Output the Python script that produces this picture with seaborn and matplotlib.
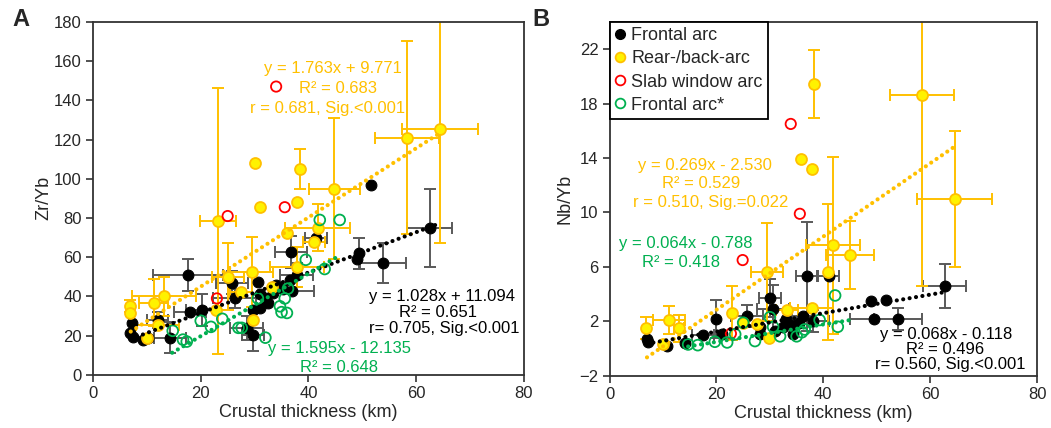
import numpy as np
import pandas as pd
import matplotlib
matplotlib.use("Agg")
import matplotlib.pyplot as plt
from matplotlib.lines import Line2D
import seaborn as sns

# ---------------- Panel A: Zr/Yb vs crustal thickness ----------------
a_front_x = [7.2, 6.9, 7.4, 9.3, 10.2, 12.0, 14.3, 17.6, 18.0, 20.2, 25.8, 26.3, 28.5, 29.7,
             30.6, 31.0, 32.5, 31.0, 29.7, 35.3, 37.0, 36.5, 36.7, 41.4, 49.4, 49.0, 53.8,
             62.5, 51.6, 33.5, 34.0, 32.0, 37.8]
a_front_y = [26.5, 21.4, 19.4, 17.8, 19.0, 28.0, 19.0, 51.0, 32.0, 33.0, 47.0, 39.0, 24.0, 20.4,
             47.5, 41.0, 36.7, 34.0, 33.0, 44.0, 43.0, 48.5, 62.7, 70.0, 62.0, 59.0, 57.0,
             75.0, 97.0, 42.0, 46.0, 39.0, 51.0]
a_front_xerr = [0, 0, 0, 0, 0, 2, 3, 6.5, 3, 3, 3, 4, 3, 2,
                0, 0, 0, 0, 0, 0, 4, 0, 3, 2, 0, 0, 4.3,
                4.2, 0, 0, 0, 0, 3]
a_front_yerr = [0, 0, 0, 0, 0, 4, 8, 8, 0, 8, 6, 5, 6, 8,
                0, 0, 0, 0, 0, 0, 0, 0, 8, 0, 8, 0, 10,
                20, 0, 0, 0, 0, 6]

a_rear_x = [6.9, 6.9, 10.0, 11.3, 13.2, 12.0, 22.8, 23.2, 25.0, 27.5, 29.5, 29.7, 30.0, 31.0,
            33.2, 36.0, 37.8, 38.4, 37.8, 41.0, 41.7, 44.8, 58.3, 64.4]
a_rear_y = [35.0, 31.6, 19.0, 36.7, 40.0, 25.5, 33.0, 78.5, 50.0, 42.4, 52.5, 28.0, 108.0, 85.5,
            45.0, 72.5, 88.0, 105.0, 55.0, 68.0, 75.0, 95.0, 121.0, 125.5]
a_rear_xerr = [0, 0, 0, 2.7, 6, 4, 0, 3.3, 3, 2, 4, 0, 0, 0,
               0, 0, 0, 0, 5, 2, 6, 4.7, 6, 7]
a_rear_yerr = [3, 0, 0, 12, 10, 0, 0, 68, 17, 0, 18, 0, 0, 0,
               0, 0, 0, 10, 10, 0, 12, 36, 49, 58]

a_slab_x = [34.0, 25.0, 35.6, 23.0]
a_slab_y = [147.0, 81.0, 85.5, 39.0]

a_front2_x = [14.8, 16.7, 17.4, 20.0, 21.9, 24.0, 27.0, 27.6, 30.6, 32.0, 34.7, 35.0, 36.0,
              35.6, 36.2, 39.5, 42.1, 45.8, 43.0]
a_front2_y = [22.5, 18.0, 17.0, 27.6, 24.5, 28.6, 24.0, 24.0, 39.0, 19.0, 35.0, 32.0, 31.6,
              39.0, 44.0, 58.7, 79.0, 79.0, 54.0]

# ---------------- Panel B: Nb/Yb vs crustal thickness ----------------
b_front_x = [7.0, 7.2, 10.7, 14.1, 17.5, 19.9, 21.0, 25.7, 28.1, 28.1, 30.0, 30.6, 32.4, 34.3,
             34.3, 36.2, 36.9, 41.0, 49.0, 51.7, 49.4, 53.9, 62.7, 31.0, 33.0, 35.5, 38.0]
b_front_y = [0.7, 0.5, 0.2, 0.4, 1.0, 2.2, 1.1, 2.4, 1.6, 1.1, 3.7, 2.9, 1.6, 1.7,
             1.1, 2.4, 5.3, 5.3, 3.5, 3.6, 2.15, 2.15, 4.6, 1.3, 2.2, 1.9, 2.0]
b_front_xerr = [0, 0, 0, 0, 2, 0, 0, 3, 0, 0, 2, 3, 0, 0,
                0, 2, 2, 2, 0, 0, 4.5, 4.5, 4, 0, 0, 0, 3]
b_front_yerr = [0, 0, 0, 0, 0, 1.4, 0, 0.8, 0, 0, 1.4, 1.8, 0, 0,
                0, 0, 4.0, 0, 0, 0, 0, 0.8, 1.6, 0, 0, 0, 0.8]

b_rear_x = [6.8, 10.0, 11.1, 13.0, 23.0, 25.0, 27.5, 29.4, 29.8, 33.2, 37.8, 35.8, 37.8, 38.3,
            40.8, 41.8, 45.0, 58.4, 64.6]
b_rear_y = [1.5, 0.3, 2.1, 1.5, 2.6, 1.9, 1.8, 5.6, 0.8, 2.8, 3.0, 13.9, 13.2, 19.4,
            5.6, 7.6, 6.9, 18.6, 11.0]
b_rear_xerr = [0, 0, 3, 1, 0, 0, 0, 3, 0, 2, 4, 0, 0, 0,
               0, 5, 4.5, 6, 7]
b_rear_yerr = [0.8, 0, 1, 1, 2, 0, 0, 3.6, 0, 0, 0, 0, 0, 2.5,
               5, 6.5, 2.5, 14, 5]

b_slab_x = [33.9, 35.6, 24.9, 22.7]
b_slab_y = [16.5, 9.9, 6.5, 1.1]

b_front2_x = [42.2, 39.3, 42.7, 14.7, 16.5, 19.7, 22.0, 23.5, 25.0, 27.2, 30.0, 31.9, 35.0,
              36.0, 36.5, 30.6]
b_front2_y = [3.9, 2.1, 1.6, 0.3, 0.25, 0.5, 0.45, 1.05, 1.9, 0.55, 2.3, 0.9, 0.9,
              1.2, 1.4, 1.6]

# Regression lines: (slope, intercept, x from, x to)
a_fit_rear = (1.763, 9.771, 7.0, 64.4)
a_fit_front = (1.028, 11.094, 7.0, 64.4)
a_fit_front2 = (1.595, -12.135, 14.7, 45.8)
b_fit_rear = (0.269, -2.530, 7.0, 64.6)
b_fit_front = (0.068, -0.118, 7.0, 62.7)
b_fit_front2 = (0.064, -0.788, 14.7, 45.0)

legend_labels = ["Frontal arc", "Rear-/back-arc", "Slab window arc", "Frontal arc*"]

# ---------------- styling ----------------
sns.set_theme(style="white")
plt.rcParams["font.family"] = ["Liberation Sans", "DejaVu Sans"]

BLACK = "#000000"
GREY = "#595959"
YELLOW_FACE = "#FFF200"
YELLOW_EDGE = "#FFC000"
RED = "#FF0000"
GREEN = "#00B050"

fig = plt.figure(figsize=(10.51, 4.28), dpi=100)
ax_a = fig.add_axes([0.0885, 0.124, 0.410, 0.825])
ax_b = fig.add_axes([0.580, 0.122, 0.4068, 0.827])


def draw_errors(ax, xs, ys, xe, ye, color):
    for x, y, dx, dy in zip(xs, ys, xe, ye):
        if dx == 0 and dy == 0:
            continue
        ax.errorbar(x, y, xerr=dx if dx else None, yerr=dy if dy else None,
                    fmt="none", ecolor=color, elinewidth=1.4, capsize=4,
                    capthick=1.4, zorder=1)


def draw_fit(ax, fit, color):
    m, c, x0, x1 = fit
    xs = np.linspace(x0, x1, 50)
    df = pd.DataFrame({"x": xs, "y": m * xs + c})
    line_ax = sns.lineplot(data=df, x="x", y="y", ax=ax, color=color, linewidth=3.0, zorder=6)
    ln = line_ax.get_lines()[-1]
    ln.set_linestyle((0, (0.01, 1.55)))
    ln.set_dash_capstyle("round")


def draw_panel(ax, fx, fy, fxe, fye, rx, ry, rxe, rye, sx, sy, gx, gy, fits):
    draw_errors(ax, fx, fy, fxe, fye, GREY)
    draw_errors(ax, rx, ry, rxe, rye, YELLOW_EDGE)
    sns.scatterplot(x=fx, y=fy, ax=ax, color=BLACK, edgecolor=BLACK, s=60,
                    linewidth=0.8, zorder=3)
    sns.scatterplot(x=rx, y=ry, ax=ax, color=YELLOW_FACE, edgecolor=YELLOW_EDGE,
                    s=62, linewidth=1.3, zorder=4)
    ax.scatter(sx, sy, s=55, facecolors="none", edgecolors=RED, linewidths=1.3, zorder=5)
    ax.scatter(gx, gy, s=60, facecolors="none", edgecolors=GREEN, linewidths=1.3, zorder=5)
    draw_fit(ax, fits[0], YELLOW_EDGE)
    draw_fit(ax, fits[1], BLACK)
    draw_fit(ax, fits[2], GREEN)


draw_panel(ax_a, a_front_x, a_front_y, a_front_xerr, a_front_yerr,
           a_rear_x, a_rear_y, a_rear_xerr, a_rear_yerr,
           a_slab_x, a_slab_y, a_front2_x, a_front2_y,
           [a_fit_rear, a_fit_front, a_fit_front2])
draw_panel(ax_b, b_front_x, b_front_y, b_front_xerr, b_front_yerr,
           b_rear_x, b_rear_y, b_rear_xerr, b_rear_yerr,
           b_slab_x, b_slab_y, b_front2_x, b_front2_y,
           [b_fit_rear, b_fit_front, b_fit_front2])

# axes limits and ticks
ax_a.set_xlim(0, 80)
ax_a.set_ylim(0, 180)
ax_a.set_xticks([0, 20, 40, 60, 80])
ax_a.set_yticks(np.arange(0, 181, 20))
ax_b.set_xlim(0, 80)
ax_b.set_ylim(-2, 24)
ax_b.set_xticks([0, 20, 40, 60, 80])
ax_b.set_yticks([-2, 2, 6, 10, 14, 18, 22])

for ax, ylab, pad in ((ax_a, "Zr/Yb", 1), (ax_b, "Nb/Yb", 4)):
    ax.set_xlabel("Crustal thickness (km)", fontsize=13, labelpad=2)
    ax.set_ylabel(ylab, fontsize=13, labelpad=pad)
    ax.tick_params(axis="both", which="major", direction="out", length=5, width=1.1,
                   labelsize=12, color="#222222", pad=3, bottom=True, left=True)
    for sp in ax.spines.values():
        sp.set_color("#333333")
        sp.set_linewidth(1.3)

# regression annotations, panel A
ax_a.text(44.5, 156.0, "y = 1.763x + 9.771", color=YELLOW_EDGE, fontsize=12, ha="center", va="center")
ax_a.text(45.5, 146.0, "R² = 0.683", color=YELLOW_EDGE, fontsize=12, ha="center", va="center")
ax_a.text(43.5, 136.0, "r = 0.681, Sig.<0.001", color=YELLOW_EDGE, fontsize=12, ha="center", va="center")
ax_a.text(64.8, 40.0, "y = 1.028x + 11.094", color=BLACK, fontsize=12, ha="center", va="center")
ax_a.text(64.0, 32.0, "R² = 0.651", color=BLACK, fontsize=12, ha="center", va="center")
ax_a.text(65.3, 23.8, "r= 0.705, Sig.<0.001", color=BLACK, fontsize=12, ha="center", va="center")
ax_a.text(45.8, 13.6, "y = 1.595x - 12.135", color=GREEN, fontsize=12, ha="center", va="center")
ax_a.text(45.6, 4.0, "R² = 0.648", color=GREEN, fontsize=12, ha="center", va="center")

# regression annotations, panel B
ax_b.text(17.8, 13.45, "y = 0.269x - 2.530", color=YELLOW_EDGE, fontsize=12, ha="center", va="center")
ax_b.text(17.1, 12.1, "R² = 0.529", color=YELLOW_EDGE, fontsize=12, ha="center", va="center")
ax_b.text(18.9, 10.7, "r = 0.510, Sig.=0.022", color=YELLOW_EDGE, fontsize=12, ha="center", va="center")
ax_b.text(14.3, 7.75, "y = 0.064x - 0.788", color=GREEN, fontsize=12, ha="center", va="center")
ax_b.text(13.3, 6.3, "R² = 0.418", color=GREEN, fontsize=12, ha="center", va="center")
ax_b.text(63.0, 1.05, "y = 0.068x - 0.118", color=BLACK, fontsize=12, ha="center", va="center")
ax_b.text(62.7, -0.05, "R² = 0.496", color=BLACK, fontsize=12, ha="center", va="center")
ax_b.text(63.8, -1.15, "r= 0.560, Sig.<0.001", color=BLACK, fontsize=12, ha="center", va="center")

# legend
handles = [
    Line2D([], [], marker="o", linestyle="none", markersize=7, markerfacecolor=BLACK,
           markeredgecolor=BLACK),
    Line2D([], [], marker="o", linestyle="none", markersize=7, markerfacecolor=YELLOW_FACE,
           markeredgecolor=YELLOW_EDGE, markeredgewidth=1.3),
    Line2D([], [], marker="o", linestyle="none", markersize=7, markerfacecolor="none",
           markeredgecolor=RED, markeredgewidth=1.3),
    Line2D([], [], marker="o", linestyle="none", markersize=7, markerfacecolor="none",
           markeredgecolor=GREEN, markeredgewidth=1.3),
]
leg = ax_b.legend(handles, legend_labels, loc="upper left", bbox_to_anchor=(0, 1),
                  borderaxespad=0, fontsize=13, frameon=True, fancybox=False,
                  handlelength=0.6, handletextpad=0.3, labelspacing=0.34,
                  borderpad=0.3, framealpha=1)
leg.get_frame().set_edgecolor("#000000")
leg.get_frame().set_linewidth(1.3)
leg.set_zorder(10)

# panel letters
fig.text(0.012, 0.955, "A", fontsize=17, fontweight="bold", ha="left", va="center")
fig.text(0.507, 0.955, "B", fontsize=17, fontweight="bold", ha="left", va="center")

fig.savefig("out.png", dpi=100)
